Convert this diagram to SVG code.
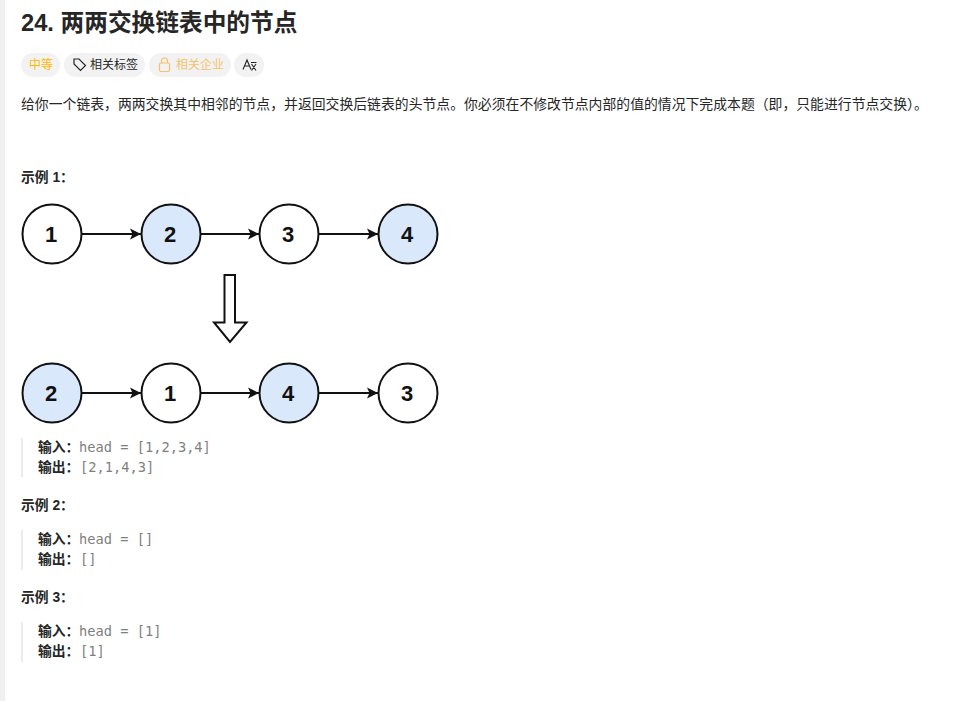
<svg xmlns="http://www.w3.org/2000/svg" width="980" height="701" viewBox="0 0 980 701">
<style>
text{font-family:"Liberation Sans","Noto Sans CJK SC",sans-serif;fill:#262626}
.t{font-size:13.85px}
.h{font-size:13.8px;font-weight:700}
.m{font-family:"DejaVu Sans Mono","Liberation Mono",monospace;font-size:13.7px;fill:#7f7f7f}
.pill{fill:#f2f2f2}
.n circle{stroke:#111;stroke-width:2;fill:#fff}
.n.b circle{fill:#dae8fc}
.n text{font-size:22px;font-weight:700;text-anchor:middle;fill:#111}
.c line{stroke:#111;stroke-width:2;marker-end:url(#a)}
.q{stroke:#ebebeb;stroke-width:2;fill:none}
</style>
<defs><marker id="a" markerUnits="userSpaceOnUse" markerWidth="12" markerHeight="13" refX="11" refY="6.500" orient="auto"><path d="M0 1L11 6.500L0 12L2.500 6.500Z" fill="#111"/></marker></defs>
<rect width="980" height="701" fill="#fff"/>
<rect width="5" height="701" fill="#f0f0f0"/>
<text x="21" y="31" style="font-size:23.7px;font-weight:700">24. 两两交换链表中的节点</text>
<g id="tags">
<rect class="pill" x="21" y="53" width="39" height="24" rx="12"/>
<text x="29" y="69" style="font-size:12px;fill:#ffb800">中等</text>
<rect class="pill" x="64" y="53" width="81" height="24" rx="12"/>
<path d="M74 59h5l6.500 6.500-5 5-6.500-6.500z" fill="none" stroke="#262626" stroke-width="1.200"/>
<text x="90" y="69" style="font-size:12px">相关标签</text>
<rect class="pill" x="149" y="53" width="82" height="24" rx="12"/>
<rect x="159.500" y="63" width="10" height="8.500" rx="1.500" fill="none" stroke="#f5c26b" stroke-width="1.200"/>
<path d="M161.500 63v-2a3 3 0 0 1 6 0v2" fill="none" stroke="#f5c26b" stroke-width="1.200"/>
<text x="176" y="69" style="font-size:12px;fill:#f5c26b">相关企业</text>
<rect class="pill" x="234" y="53" width="30" height="24" rx="12"/>
<path d="M243 69.500L247 60L251 69.500M244.500 66H249.500M251 62.500H256.500M251.500 64L256 70.500M256 64L251.500 70.500" fill="none" stroke="#262626" stroke-width="1.100"/>
</g>
<text x="21" y="109" class="t">给你一个链表，两两交换其中相邻的节点，并返回交换后链表的头节点。你必须在不修改节点内部的值的情况下完成本题（即，只能进行节点交换）。</text>
<text x="21" y="182" class="h">示例 1：</text>
<g id="connectors" class="c">
<line x1="82" y1="234" x2="141" y2="234"/><line x1="201" y1="234" x2="259" y2="234"/><line x1="319" y1="234" x2="378" y2="234"/>
<line x1="82" y1="393" x2="141" y2="393"/><line x1="201" y1="393" x2="259" y2="393"/><line x1="319" y1="393" x2="378" y2="393"/>
</g>
<g id="n1" class="n"><circle cx="52" cy="234" r="29.500"/><text x="51" y="242">1</text></g>
<g id="n2" class="n b"><circle cx="171" cy="234" r="29.500"/><text x="170" y="242">2</text></g>
<g id="n3" class="n"><circle cx="289" cy="234" r="29.500"/><text x="288" y="242">3</text></g>
<g id="n4" class="n b"><circle cx="408" cy="234" r="29.500"/><text x="407" y="242">4</text></g>
<path id="down" d="M224.500 275H235V322.500H246.500L230 342L214 322.500H224.500Z" fill="#fff" stroke="#111" stroke-width="2"/>
<g id="m1" class="n b"><circle cx="52" cy="393" r="29.500"/><text x="51" y="401">2</text></g>
<g id="m2" class="n"><circle cx="171" cy="393" r="29.500"/><text x="170" y="401">1</text></g>
<g id="m3" class="n b"><circle cx="289" cy="393" r="29.500"/><text x="288" y="401">4</text></g>
<g id="m4" class="n"><circle cx="408" cy="393" r="29.500"/><text x="407" y="401">3</text></g>
<path class="q" d="M22 438V477M22 530V570M22 622V662"/>
<text x="38" y="452" class="h">输入：</text><text x="79" y="452" class="m">head = [1,2,3,4]</text>
<text x="38" y="472" class="h">输出：</text><text x="80" y="472" class="m">[2,1,4,3]</text>
<text x="21" y="510" class="h">示例 2：</text>
<text x="38" y="544" class="h">输入：</text><text x="79" y="544" class="m">head = []</text>
<text x="38" y="564" class="h">输出：</text><text x="80" y="564" class="m">[]</text>
<text x="21" y="602" class="h">示例 3：</text>
<text x="38" y="636" class="h">输入：</text><text x="79" y="636" class="m">head = [1]</text>
<text x="38" y="656" class="h">输出：</text><text x="80" y="656" class="m">[1]</text>
</svg>
